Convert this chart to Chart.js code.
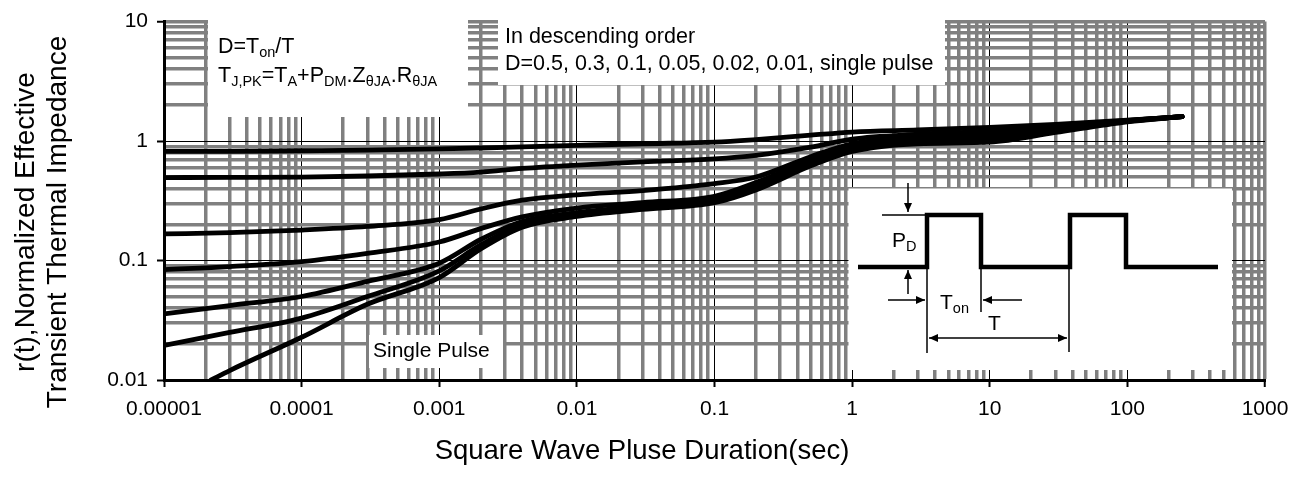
<!DOCTYPE html>
<html>
<head>
<meta charset="utf-8">
<script src="https://cdn.jsdelivr.net/npm/chart.js@4/dist/chart.umd.min.js"></script>
<style>
html,body{margin:0;padding:0;background:#fff;}
#wrap{width:1308px;height:498px;position:relative;}
</style>
</head>
<body>
<div id="wrap"><canvas id="c"></canvas></div>
<script>
// ---------- data ----------
const xTickValues = [1e-5, 1e-4, 1e-3, 1e-2, 0.1, 1, 10, 100, 1000];
const xTickLabels = ['0.00001', '0.0001', '0.001', '0.01', '0.1', '1', '10', '100', '1000'];
const yTickValues = [0.01, 0.1, 1, 10];
const yTickLabels = ['0.01', '0.1', '1', '10'];

const pulseDuration =       [1e-5,   3e-5,  1e-4,   3e-4,  1e-3,  2e-3,  4e-3,  1e-2,  3e-2,  0.1,   0.2,  0.5,  1,    3,    10,   30,   100,  250];
const singlePulseDuration = [2.2e-5, 3e-5,  1e-4,   3e-4,  1e-3,  2e-3,  4e-3,  1e-2,  3e-2,  0.1,   0.2,  0.5,  1,    3,    10,   30,   100,  250];

const d050 =    [0.82,   0.82,  0.83,   0.84,  0.86,  0.875, 0.895, 0.92,  0.95,  0.98,  1.03, 1.12, 1.19, 1.24, 1.30, 1.38, 1.50, 1.60];
const d030 =    [0.495,  0.497, 0.50,   0.51,  0.53,  0.55,  0.59,  0.63,  0.67,  0.71,  0.76, 0.89, 1.04, 1.14, 1.21, 1.33, 1.49, 1.60];
const d010 =    [0.167,  0.171, 0.18,   0.193, 0.22,  0.27,  0.32,  0.355, 0.385, 0.44,  0.50, 0.74, 0.95, 1.07, 1.13, 1.28, 1.48, 1.60];
const d005 =    [0.084,  0.089, 0.098,  0.115, 0.143, 0.185, 0.232, 0.275, 0.305, 0.345, 0.45, 0.69, 0.90, 1.02, 1.07, 1.24, 1.47, 1.60];
const d002 =    [0.0357, 0.042, 0.05,   0.067, 0.095, 0.15,  0.212, 0.252, 0.285, 0.33,  0.42, 0.66, 0.87, 0.99, 1.03, 1.21, 1.47, 1.60];
const d001 =    [0.0195, 0.025, 0.033,  0.05,  0.082, 0.135, 0.2,   0.243, 0.275, 0.315, 0.41, 0.64, 0.85, 0.97, 1.00, 1.20, 1.46, 1.60];
const dSingle = [0.010,  0.012, 0.0228, 0.043, 0.072, 0.125, 0.19,  0.234, 0.268, 0.305, 0.39, 0.62, 0.82, 0.95, 0.98, 1.18, 1.45, 1.60];

const seriesNames = ['D=0.5', 'D=0.3', 'D=0.1', 'D=0.05', 'D=0.02', 'D=0.01', 'Single Pulse'];

// ---------- helpers ----------
const FONT = '"Liberation Sans", Arial, Helvetica, sans-serif';
function isMajor(v) { const l = Math.log10(v); return Math.abs(l - Math.round(l)) < 1e-6; }
function sameVal(a, b) { return Math.abs(Math.log10(a) - Math.log10(b)) < 1e-6; }
function gridTicks(decades) {
  const out = [];
  for (let i = 0; i < decades.length - 1; i++) for (let k = 1; k < 10; k++) out.push(decades[i] * k);
  out.push(decades[decades.length - 1]);
  return out;
}
function toPts(xs, ys) { return xs.map((x, i) => ({x: x, y: ys[i]})); }

const GRAY = '#808080';
function gridColor(maxVal) {
  return ctx => {
    const v = ctx.tick ? ctx.tick.value : 1;
    if (sameVal(v, maxVal)) return GRAY;
    return isMajor(v) ? '#000000' : GRAY;
  };
}
function gridWidth(maxVal) {
  return ctx => {
    const v = ctx.tick ? ctx.tick.value : 1;
    if (sameVal(v, maxVal)) return 3.5;
    return isMajor(v) ? 1 : 3.5;
  };
}
function tickCol(ctx) { const v = ctx.tick ? ctx.tick.value : 1; return isMajor(v) ? '#000' : 'rgba(0,0,0,0)'; }

// ---------- annotation plugin ----------
function rich(ctx, x, y, parts, mainSize, subSize, subDy) {
  let cx = x;
  for (const p of parts) {
    const sub = p[1];
    ctx.font = (sub ? subSize : mainSize) + 'px ' + FONT;
    ctx.fillText(p[0], cx, y + (sub ? subDy : 0));
    cx += ctx.measureText(p[0]).width;
  }
}
function line(ctx, x1, y1, x2, y2, w) {
  ctx.lineWidth = w; ctx.beginPath(); ctx.moveTo(x1, y1); ctx.lineTo(x2, y2); ctx.stroke();
}
function arrow(ctx, x1, y1, x2, y2) {
  line(ctx, x1, y1, x2, y2, 1.5);
  const a = Math.atan2(y2 - y1, x2 - x1), L = 9, W = 4;
  ctx.beginPath();
  ctx.moveTo(x2, y2);
  ctx.lineTo(x2 - L * Math.cos(a) + W * Math.sin(a), y2 - L * Math.sin(a) - W * Math.cos(a));
  ctx.lineTo(x2 - L * Math.cos(a) - W * Math.sin(a), y2 - L * Math.sin(a) + W * Math.cos(a));
  ctx.closePath(); ctx.fill();
}

const annotations = {
  id: 'annotations',
  beforeDatasetsDraw(chart) {
    const ctx = chart.ctx;
    ctx.save();
    ctx.fillStyle = '#fff';
    ctx.fillRect(208, 18, 260, 99);     // box 1
    ctx.fillRect(498, 18, 447, 67);     // box 2
    ctx.fillRect(369, 335, 134, 33);    // single pulse label box
    ctx.fillRect(848.5, 188.5, 383.5, 181.5); // inset
    ctx.restore();
  },
  afterDatasetsDraw(chart) {
    const ctx = chart.ctx;
    ctx.save();
    ctx.fillStyle = '#000'; ctx.strokeStyle = '#000';
    ctx.textAlign = 'left'; ctx.textBaseline = 'alphabetic';
    // box 1
    rich(ctx, 218, 53, [['D=T', 0], ['on', 1], ['/T', 0]], 21.5, 14.5, 4);
    rich(ctx, 218, 82, [['T', 0], ['J,PK', 1], ['=T', 0], ['A', 1], ['+P', 0], ['DM', 1], ['.Z', 0], ['\u03B8JA', 1], ['.R', 0], ['\u03B8JA', 1]], 21.5, 14.5, 4);
    // box 2
    ctx.font = '21.5px ' + FONT;
    ctx.fillText('In descending order', 505, 43);
    ctx.fillText('D=0.5, 0.3, 0.1, 0.05, 0.02, 0.01, single pulse', 505, 70);
    // single pulse label
    ctx.font = '21px ' + FONT;
    ctx.fillText('Single Pulse', 373, 357);
    // inset waveform
    ctx.lineWidth = 4.5; ctx.lineJoin = 'miter'; ctx.lineCap = 'butt';
    ctx.beginPath();
    ctx.moveTo(858, 267); ctx.lineTo(927, 267); ctx.lineTo(927, 215); ctx.lineTo(981, 215); ctx.lineTo(981, 267);
    ctx.lineTo(1070, 267); ctx.lineTo(1070, 215); ctx.lineTo(1126, 215); ctx.lineTo(1126, 267); ctx.lineTo(1218, 267);
    ctx.stroke();
    line(ctx, 882, 215, 927, 215, 1.5);
    line(ctx, 927, 267, 927, 353, 1.5);
    line(ctx, 981, 267, 981, 312, 1.5);
    line(ctx, 1069, 267, 1069, 352, 1.5);
    arrow(ctx, 908, 183, 908, 212);
    arrow(ctx, 908, 294, 908, 270);
    arrow(ctx, 888, 300, 925, 300);
    arrow(ctx, 1022, 300, 983, 300);
    arrow(ctx, 990, 338, 929, 338);
    arrow(ctx, 990, 338, 1067, 338);
    rich(ctx, 892, 247, [['P', 0], ['D', 1]], 21, 14.5, 4);
    rich(ctx, 940, 309, [['T', 0], ['on', 1]], 21, 14.5, 4);
    ctx.font = '21px ' + FONT;
    ctx.fillText('T', 988, 330);
    ctx.restore();
  },
  afterDraw(chart) {
    const ctx = chart.ctx;
    ctx.save();
    ctx.fillStyle = '#000';
    ctx.textAlign = 'center'; ctx.textBaseline = 'middle';
    ctx.font = '27.5px ' + FONT;
    ctx.fillText('Square Wave Pluse Duration(sec)', 642, 451);
    ctx.translate(26, 222);
    ctx.rotate(-Math.PI / 2);
    ctx.font = '28px ' + FONT;
    ctx.fillText('r(t),Normalized Effective', 0, 0);
    ctx.fillText('Transient Thermal Impedance', 0, 32);
    ctx.restore();
  }
};

// ---------- chart ----------
const seriesY = [d050, d030, d010, d005, d002, d001, dSingle];
const seriesX = [pulseDuration, pulseDuration, pulseDuration, pulseDuration, pulseDuration, pulseDuration, singlePulseDuration];

new Chart(document.getElementById('c'), {
  type: 'line',
  data: {
    datasets: seriesNames.map((n, i) => ({
      label: n,
      data: toPts(seriesX[i], seriesY[i]),
      borderColor: '#000',
      borderWidth: 4.8,
      pointRadius: 0,
      fill: false,
      cubicInterpolationMode: 'monotone',
      borderCapStyle: 'round',
      borderJoinStyle: 'round'
    }))
  },
  options: {
    responsive: true,
    maintainAspectRatio: false,
    animation: false,
    layout: {padding: {top: 16, right: 43, bottom: 0, left: 0}},
    plugins: {legend: {display: false}, tooltip: {enabled: false}},
    scales: {
      x: {
        type: 'logarithmic',
        position: 'bottom',
        min: 1e-5, max: 1000,
        afterBuildTicks: s => { s.ticks = gridTicks(xTickValues).map(v => ({value: v})); },
        afterFit: s => { s.height = 118; },
        ticks: {
          autoSkip: false, maxRotation: 0, minRotation: 0, padding: 10,
          color: '#000', font: {family: FONT, size: 21},
          callback: v => { const i = xTickValues.findIndex(t => sameVal(t, v)); return i >= 0 ? xTickLabels[i] : ''; }
        },
        grid: {
          color: gridColor(1000), lineWidth: gridWidth(1000),
          tickLength: 7, tickColor: tickCol, tickWidth: 2, drawTicks: true
        },
        border: {display: true, color: '#000', width: 3}
      },
      y: {
        type: 'logarithmic',
        position: 'left',
        min: 0.01, max: 10,
        afterBuildTicks: s => { s.ticks = gridTicks(yTickValues).map(v => ({value: v})); },
        afterFit: s => { s.width = 164; },
        ticks: {
          autoSkip: false, padding: 9,
          color: '#000', font: {family: FONT, size: 21},
          callback: v => { const i = yTickValues.findIndex(t => sameVal(t, v)); return i >= 0 ? yTickLabels[i] : ''; }
        },
        grid: {
          color: gridColor(10), lineWidth: gridWidth(10),
          tickLength: 7, tickColor: tickCol, tickWidth: 2, drawTicks: true
        },
        border: {display: true, color: '#000', width: 3}
      }
    }
  },
  plugins: [annotations]
});
</script>
</body>
</html>
